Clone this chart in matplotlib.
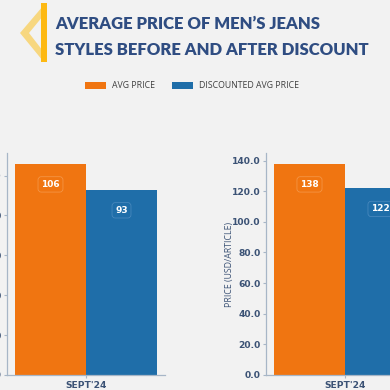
import matplotlib.pyplot as plt
from matplotlib.patches import Polygon, Rectangle, Patch

# data
categories = ["SEPT'24"]
left_avg = [106]
left_disc = [93]
right_avg = [138]
right_disc = [122]
series_names = ["AVG PRICE", "DISCOUNTED AVG PRICE"]

orange = "#f07511"
blue = "#1f6ea9"
spine_col = "#a7b6c7"
text_col = "#3b5275"
title_col = "#2f4d82"
bg = "#f2f2f2"

fig = plt.figure(figsize=(3.9, 3.9), dpi=100)
fig.patch.set_facecolor(bg)


def px(x, y):
    # pixel coords (from top-left) to figure fraction
    return x / 390, 1 - y / 390


def draw_panel(ax, avg, disc, ymax, show_label):
    w = 0.4
    xs = range(len(categories))
    for i, (a, d) in enumerate(zip(avg, disc)):
        for off, v, c, ec in [(-w / 2, a, orange, "#f59a4e"), (w / 2, d, blue, "#4e8cc0")]:
            ax.bar(i + off, v, width=w, color=c, edgecolor="none", zorder=2)
            ax.annotate(f"{v}", (i + off, v), xytext=(0, -15), textcoords="offset points",
                        ha="center", va="center", color="white", fontsize=6.5,
                        fontweight="bold", zorder=3,
                        bbox=dict(boxstyle="round,pad=0.35", fc=c, ec=ec, lw=0.5))
    ax.set_xticks(list(xs))
    ax.set_xticklabels(categories)
    ax.set_xlim(-0.445, len(categories) - 1 + 0.445)
    ax.set_ylim(0, ymax)
    ax.set_facecolor("none")
    for s in ["top", "right"]:
        ax.spines[s].set_visible(False)
    for s in ["left", "bottom"]:
        ax.spines[s].set_color(spine_col)
        ax.spines[s].set_linewidth(0.9)
    ax.tick_params(colors=spine_col, length=2.5, width=0.8, pad=1.5)
    for lab in ax.get_xticklabels() + ax.get_yticklabels():
        lab.set_color(text_col)
        lab.set_fontweight("bold")
        lab.set_fontsize(6.6)
    ax.yaxis.set_major_formatter(plt.FormatStrFormatter("%.1f"))
    if show_label:
        ax.set_ylabel("PRICE (USD/ARTICLE)", color=text_col, fontsize=6.3,
                      family="Open Sans", labelpad=-2)


bottom = 15 / 390
height = 222 / 390
width = 158 / 390
ax1 = fig.add_axes([7 / 390, bottom, width, height])
ax1.set_yticks(range(0, 101, 20))
draw_panel(ax1, left_avg, left_disc, 106 * 1.05, False)

ax2 = fig.add_axes([266 / 390, bottom, width, height])
ax2.set_yticks(range(0, 141, 20))
draw_panel(ax2, right_avg, right_disc, 138 * 1.05, True)

# decoration left of title
chev = Polygon([px(43, 6), px(20, 33), px(43, 61), px(43, 51), px(29, 33), px(43, 16)],
               closed=True, transform=fig.transFigure, fc="#f8d473", ec="none", alpha=0.9)
fig.patches.append(chev)
bar = Rectangle(px(41, 62), 6 / 390, 59 / 390, transform=fig.transFigure,
                fc="#fdb913", ec="none")
fig.patches.append(bar)

# title
fig.text(*px(55, 29), "AVERAGE PRICE OF MEN’S JEANS", color=title_col, fontsize=12,
         fontweight="heavy", family="Lato", va="baseline")
fig.text(*px(55, 55), "STYLES BEFORE AND AFTER DISCOUNT", color=title_col, fontsize=12,
         fontweight="heavy", family="Lato", va="baseline")

# legend
handles = [Patch(fc=orange, ec="none"), Patch(fc=blue, ec="none")]
fig.legend(handles, series_names, loc="center", bbox_to_anchor=px(192, 86), ncol=2,
           frameon=False, prop={"family": "Open Sans", "size": 6.3},
           labelcolor="#404040", handlelength=2.4, handleheight=0.9,
           columnspacing=2.0, handletextpad=0.7)

fig.savefig("out.png", dpi=100, facecolor=bg)
